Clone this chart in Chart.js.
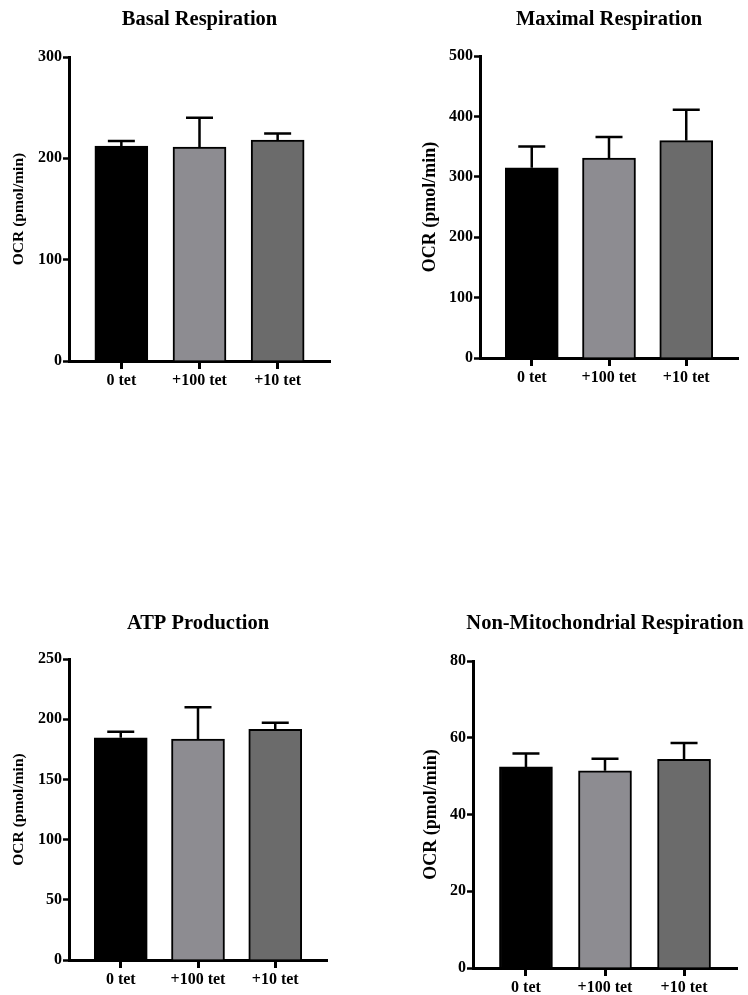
<!DOCTYPE html>
<html>
<head>
<meta charset="utf-8">
<script src="https://cdn.jsdelivr.net/npm/chart.js@4"></script>
<style>
  html, body { margin: 0; padding: 0; background: #fff; }
  body { width: 748px; height: 995px; position: relative; overflow: hidden; }
  canvas { position: absolute; }
</style>
</head>
<body>
<canvas id="basal" width="374" height="400" style="left:0;top:0"></canvas>
<canvas id="maximal" width="374" height="400" style="left:374px;top:0"></canvas>
<canvas id="atp" width="374" height="415" style="left:0;top:580px"></canvas>
<canvas id="nonMito" width="374" height="415" style="left:374px;top:580px"></canvas>
<script>
// values (mean and upward SEM bar)
var groups = ['0 tet', '+100 tet', '+10 tet'];
var groupPos = [1, 2, 3];
var barColors = ['#000000', '#8d8c91', '#6b6b6b'];

var basalMean = [212, 211, 218];
var basalSem = [5, 29, 6.5];
var maximalMean = [315, 331, 360];
var maximalSem = [35, 35, 51];
var atpMean = [184.5, 183.5, 191.5];
var atpSem = [5, 26.5, 5.5];
var nonMitoMean = [52.4, 51.4, 54.4];
var nonMitoSem = [3.5, 3.1, 4.2];

var basalTicks = [0, 100, 200, 300];
var maximalTicks = [0, 100, 200, 300, 400, 500];
var atpTicks = [0, 50, 100, 150, 200, 250];
var nonMitoTicks = [0, 20, 40, 60, 80];

var yTitle = 'OCR (pmol/min)';
var FONT = '"Liberation Serif", "Times New Roman", serif';

// upward error bars with a cap, drawn over each bar
var errorBars = {
    id: 'errorBars',
    afterDatasetsDraw: function (chart, args, opts) {
        var ctx = chart.ctx;
        var yScale = chart.scales.y;
        var meta = chart.getDatasetMeta(0);
        ctx.save();
        ctx.strokeStyle = '#000';
        ctx.lineWidth = 2.5;
        meta.data.forEach(function (bar, i) {
            var top = yScale.getPixelForValue(opts.mean[i] + opts.sem[i]);
            ctx.beginPath();
            ctx.moveTo(bar.x, bar.y);
            ctx.lineTo(bar.x, top);
            ctx.moveTo(bar.x - 13.5, top);
            ctx.lineTo(bar.x + 13.5, top);
            ctx.stroke();
        });
        ctx.restore();
    }
};

// title centred over the plot area
var panelTitle = {
    id: 'panelTitle',
    afterDraw: function (chart, args, opts) {
        var ctx = chart.ctx;
        var area = chart.chartArea;
        ctx.save();
        ctx.fillStyle = '#000';
        ctx.font = 'bold 20.5px ' + FONT;
        ctx.textAlign = 'center';
        ctx.textBaseline = 'middle';
        ctx.fillText(opts.text, (area.left + area.right) / 2, opts.y);
        ctx.restore();
    }
};

function makePanel(id, title, mean, sem, yTicks, box) {
    var points = groupPos.map(function (x, i) { return { x: x, y: mean[i] }; });
    new Chart(document.getElementById(id), {
        type: 'bar',
        data: {
            datasets: [{
                data: points,
                backgroundColor: barColors,
                borderColor: '#000',
                borderWidth: 2,
                barThickness: 53,
            }],
        },
        plugins: [errorBars, panelTitle],
        options: {
            responsive: false,
            animation: false,
            devicePixelRatio: 1,
            layout: { padding: { top: box.top, right: box.right, bottom: 0, left: 0 } },
            plugins: {
                legend: { display: false },
                tooltip: { enabled: false },
                errorBars: { mean: mean, sem: sem },
                panelTitle: { text: title, y: box.titleY },
            },
            scales: {
                x: {
                    type: 'linear',
                    min: 0.33,
                    max: 3.67,
                    offset: false,
                    afterBuildTicks: function (s) {
                        s.ticks = groupPos.map(function (v) { return { value: v }; });
                    },
                    afterFit: function (s) { s.height = box.xh; },
                    border: { display: true, color: '#000', width: 3 },
                    grid: { offset: false, drawOnChartArea: false, drawTicks: true, tickLength: 8, tickWidth: 3, tickColor: '#000' },
                    ticks: {
                        autoSkip: false,
                        maxRotation: 0,
                        padding: 2,
                        color: '#000',
                        font: { family: FONT, size: 16, weight: 'bold' },
                        callback: function (v) { return groups[groupPos.indexOf(v)]; },
                    },
                },
                y: {
                    min: yTicks[0],
                    max: yTicks[yTicks.length - 1],
                    afterBuildTicks: function (s) {
                        s.ticks = yTicks.map(function (v) { return { value: v }; });
                    },
                    afterFit: function (s) { s.width = box.yw; },
                    border: { display: true, color: '#000', width: 3 },
                    grid: { drawOnChartArea: false, drawTicks: true, tickLength: 6, tickWidth: 2.5, tickColor: '#000' },
                    ticks: {
                        padding: 1,
                        color: '#000',
                        font: { family: FONT, size: 16, weight: 'bold' },
                    },
                    title: {
                        display: true,
                        text: yTitle,
                        color: '#000',
                        padding: { top: box.titlePad, bottom: 0 },
                        font: { family: FONT, size: box.ySize, weight: 'bold' },
                    },
                },
            },
        },
    });
}

makePanel('basal', 'Basal Respiration', basalMean, basalSem, basalTicks,
    { top: 57, right: 44, xh: 39, yw: 69, titleY: 20, titlePad: 10, ySize: 15.5 });
makePanel('maximal', 'Maximal Respiration', maximalMean, maximalSem, maximalTicks,
    { top: 56, right: 10, xh: 42, yw: 106, titleY: 20, titlePad: 46, ySize: 18 });
makePanel('atp', 'ATP Production', atpMean, atpSem, atpTicks,
    { top: 79, right: 47, xh: 35, yw: 69, titleY: 44, titlePad: 10, ySize: 15.5 });
makePanel('nonMito', 'Non-Mitochondrial Respiration', nonMitoMean, nonMitoSem, nonMitoTicks,
    { top: 81, right: 11, xh: 27, yw: 99, titleY: 44, titlePad: 46.5, ySize: 18 });
</script>
</body>
</html>
